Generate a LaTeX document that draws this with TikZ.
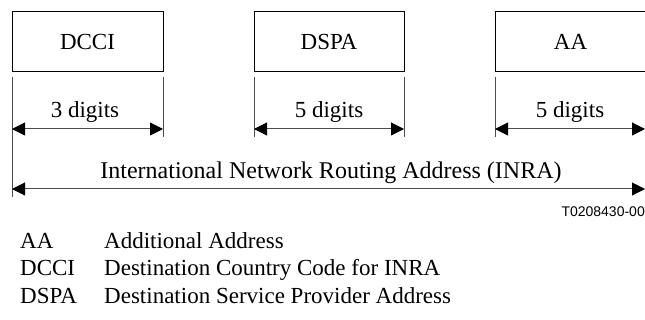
\documentclass[tikz,border=0pt]{standalone}
\usepackage{fontspec}
\setmainfont{Liberation Serif}
\newfontfamily\codefont{Liberation Sans}
\usetikzlibrary{arrows.meta}
\begin{document}
\begin{tikzpicture}[x=1pt,y=-1pt,
  field/.style={draw, line width=1pt, minimum height=60pt, inner sep=0pt,
    font=\fontsize{23}{27}\selectfont},
  lbl/.style={inner sep=0pt, anchor=base, font=\fontsize{23}{27}\selectfont},
  legend/.style={inner sep=0pt, anchor=base west, font=\fontsize{23}{27}\selectfont},
  code/.style={inner sep=0pt, anchor=base east, font=\codefont\fontsize{14}{16}\selectfont},
  tickline/.style={line width=1pt, draw=black!70},
  dim/.style={line width=1pt, draw=black!70,
    {Triangle[length=13pt,width=13pt,color=black,fill=black]}-{Triangle[length=13pt,width=13pt,color=black,fill=black]}}]
\useasboundingbox (0,0) rectangle (645,320);
% boxes
\node[field, minimum width=151pt] (dcci) at (87.5,42) {DCCI};
\node[field, minimum width=150pt] (dspa) at (329,42) {DSPA};
\node[field, minimum width=151pt] (aa) at (570.5,42) {AA};
% tick lines
\coordinate (l1t) at (12,77);   \coordinate (l1b) at (12,197);
\coordinate (r1t) at (163,77);  \coordinate (r1b) at (163,137);
\coordinate (l2t) at (254,77);  \coordinate (l2b) at (254,137);
\coordinate (r2t) at (404,77);  \coordinate (r2b) at (404,137);
\coordinate (l3t) at (495,77);  \coordinate (l3b) at (495,137);
\draw[tickline] (l1t) -- (l1b);
\draw[tickline] (r1t) -- (r1b);
\draw[tickline] (l2t) -- (l2b);
\draw[tickline] (r2t) -- (r2b);
\draw[tickline] (l3t) -- (l3b);
% small dimension arrows
\coordinate (a1) at (12,129);  \coordinate (b1) at (163,129);
\coordinate (a2) at (254,129); \coordinate (b2) at (404,129);
\coordinate (a3) at (495,129); \coordinate (b3) at (645,129);
\draw[dim] (a1) -- (b1);
\draw[dim] (a2) -- (b2);
\draw[dim] (a3) -- (b3);
\node[lbl] (d1) at (85,118) {3 digits};
\node[lbl] (d2) at (329,118) {5 digits};
\node[lbl] (d3) at (570,118) {5 digits};
% big dimension arrow
\coordinate (ia) at (12,189); \coordinate (ib) at (645,189);
\draw[dim] (ia) -- (ib);
\node[lbl, font=\fontsize{24}{28}\selectfont] (inra) at (331,179) {International Network Routing Address (INRA)};
\node[code] (fig) at (645,217) {T0208430-00};
% legend
\node[legend] (k1) at (20,249) {AA};
\node[legend] (v1) at (104,249) {Additional Address};
\node[legend] (k2) at (20,276) {DCCI};
\node[legend] (v2) at (104,276) {Destination Country Code for INRA};
\node[legend] (k3) at (20,304) {DSPA};
\node[legend] (v3) at (104,304) {Destination Service Provider Address};
\end{tikzpicture}
\end{document}
